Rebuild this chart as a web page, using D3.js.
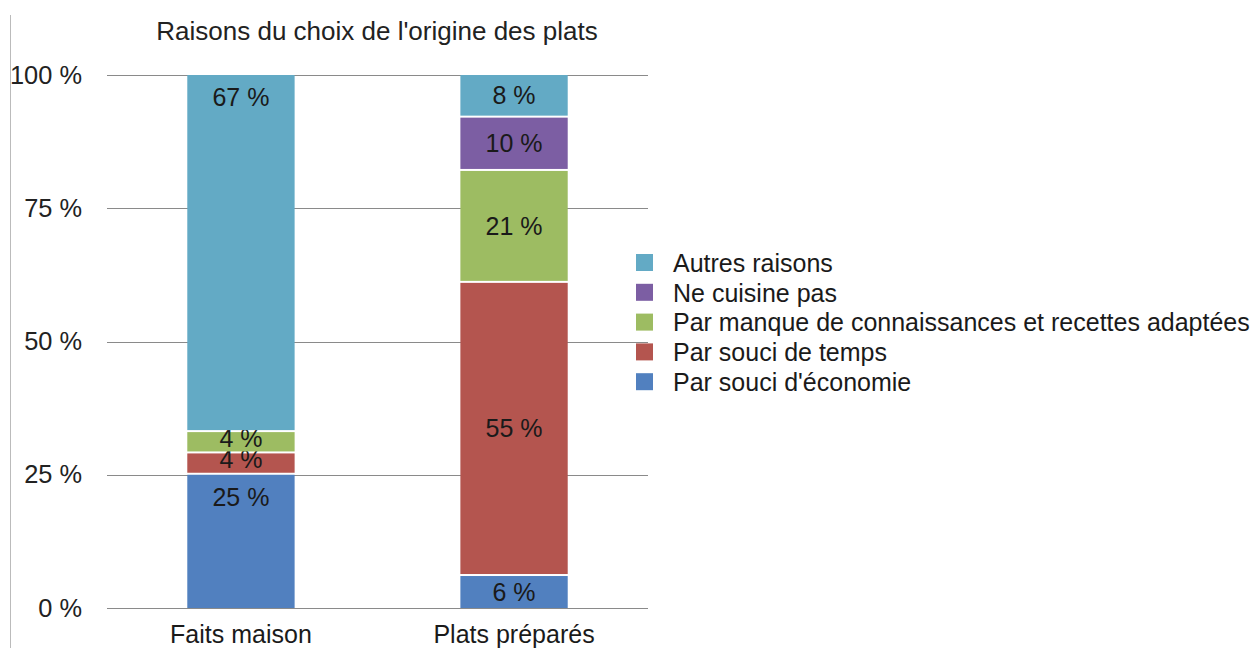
<!DOCTYPE html>
<html><head><meta charset="utf-8">
<script src="https://cdn.jsdelivr.net/npm/d3@7"></script>
<style>body{margin:0;background:#fff}svg{display:block;font-family:"Liberation Sans",Arial,sans-serif}</style>
</head><body><svg id="c" width="1258" height="648"></svg>
<script>
const title = "Raisons du choix de l'origine des plats";
const categories = ["Faits maison", "Plats préparés"];
const seriesNames = ["Par souci d'économie", "Par souci de temps", "Par manque de connaissances et recettes adaptées", "Ne cuisine pas", "Autres raisons"];
const seriesColors = ["#5180bf", "#b4554f", "#9dbc62", "#7c5ea3", "#63aac5"];
const economie = [25, 6];
const temps = [4, 55];
const manque = [4, 21];
const neCuisine = [0, 10];
const autres = [67, 8];
const yTicks = [0, 25, 50, 75, 100];
const labelMode = ["top", "middle"];

const series = [economie, temps, manque, neCuisine, autres];
const FONT = "'Liberation Sans', Arial, sans-serif";
const svg = d3.select("#c");
const y = d3.scaleLinear().domain([0, 100]).range([608, 75]);
const x = d3.scaleBand().domain(categories).range([107, 648]).paddingInner(0.607).paddingOuter(0.294);

svg.append("line").attr("x1", 10.5).attr("x2", 10.5).attr("y1", 15).attr("y2", 648).attr("stroke", "#bbb");

svg.append("text").attr("x", 377).attr("y", 40).attr("text-anchor", "middle")
  .style("font-size", "26px").style("font-family", FONT).attr("fill", "#222").text(title);

const yAxis = d3.axisLeft(y).tickValues(yTicks).tickSize(-(648 - 107)).tickFormat(d => d + " %");
const gy = svg.append("g").attr("transform", "translate(107,0)").call(yAxis);
gy.select(".domain").remove();
gy.selectAll(".tick line").attr("stroke", "#8a8a8a").attr("shape-rendering", "crispEdges");
gy.selectAll(".tick text").attr("x", -25).style("font-size", "25.4px").style("font-family", FONT).attr("fill", "#222");

const stack = d3.stack().keys(d3.range(series.length)).value((d, k) => series[k][d]);
const stacked = stack(d3.range(categories.length));

stacked.forEach((layer, si) => {
  layer.forEach((seg, ci) => {
    const lo = seg[0], hi = seg[1];
    if (hi - lo <= 0) return;
    const yTop = y(hi), yBot = y(lo);
    const h = yBot - yTop - (lo === 0 ? 0 : 2);
    svg.append("rect").attr("x", x(categories[ci])).attr("y", yTop)
      .attr("width", x.bandwidth()).attr("height", h)
      .attr("fill", seriesColors[si]);
    let ly;
    if (labelMode[ci] === "top") ly = Math.min(yTop + 22, yTop + h / 2 - 4);
    else ly = yTop + h / 2;
    svg.append("text").attr("x", x(categories[ci]) + x.bandwidth() / 2).attr("y", ly)
      .attr("dy", "0.35em").attr("text-anchor", "middle")
      .style("font-size", "25px").style("font-family", FONT).attr("fill", "#1a1a1a")
      .text(series[si][ci] + " %");
  });
});

categories.forEach(c => {
  svg.append("text").attr("x", x(c) + x.bandwidth() / 2).attr("y", 643).attr("text-anchor", "middle")
    .style("font-size", "25px").style("font-family", FONT).attr("fill", "#1a1a1a").text(c);
});

const legendOrder = d3.range(series.length).reverse();
legendOrder.forEach((si, i) => {
  const ly = 263 + i * 29.8;
  svg.append("rect").attr("x", 636).attr("y", ly - 9).attr("width", 17).attr("height", 17).attr("fill", seriesColors[si]);
  svg.append("text").attr("x", 673).attr("y", ly).attr("dy", "0.35em")
    .style("font-size", "25px").style("font-family", FONT).attr("fill", "#1a1a1a").text(seriesNames[si]);
});
</script></body></html>
